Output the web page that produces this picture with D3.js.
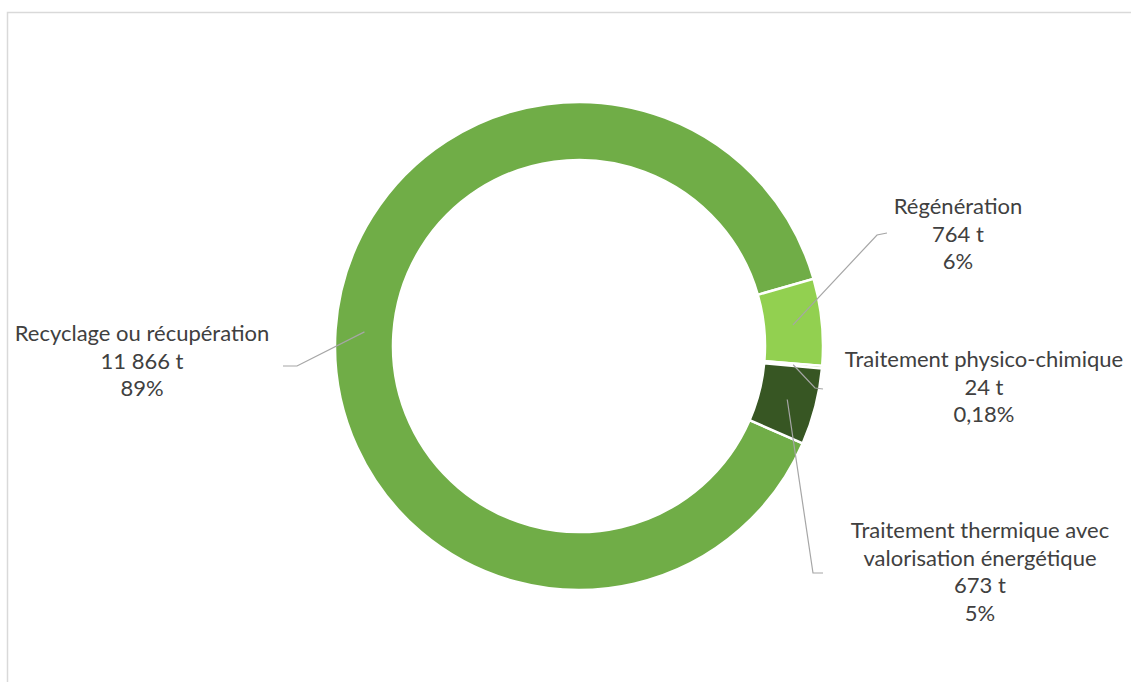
<!DOCTYPE html>
<html>
<head>
<meta charset="utf-8">
<script src="https://cdn.jsdelivr.net/npm/d3@7"></script>
<style>
  html, body { margin: 0; padding: 0; background: #fff; }
  svg { display: block; }
</style>
</head>
<body>
<svg id="chart"></svg>
<script>
// données
const categories = [
  "Recyclage ou récupération",
  "Régénération",
  "Traitement physico-chimique",
  "Traitement thermique avec valorisation énergétique"
];
const labelNames = [
  ["Recyclage ou récupération"],
  ["Régénération"],
  ["Traitement physico-chimique"],
  ["Traitement thermique avec", "valorisation énergétique"]
];
const tonnages = [11866, 764, 24, 673];
const tonnageLabels = ["11 866 t", "764 t", "24 t", "673 t"];
const percentLabels = ["89%", "6%", "0,18%", "5%"];
const colors = ["#70AD47", "#92D050", "#A9D18E", "#375623"];

// placement des étiquettes (décalage par rapport au centre du donut)
const labelLayout = [
  { dx: -437, dy: -5, elbow: [-282, 20], end: [-296, 20] },
  { dx: 379, dy: -132, elbow: [298, -111], end: [308, -113] },
  { dx: 405, dy: 21, elbow: [236, 42], end: [244, 43] },
  { dx: 401, dy: 192, elbow: [234, 227], end: [244, 227] }
];

const width = 1131, height = 682;
const cx = 579, cy = 346;
const outerR = 244, innerR = 186;
const startDeg = 113.5;
const lineH = 27.5;

const svg = d3.select("#chart")
  .attr("width", width)
  .attr("height", height);

// cadre du graphique
svg.append("rect")
  .attr("x", 7.5).attr("y", 12.5)
  .attr("width", width + 50).attr("height", height + 50)
  .attr("fill", "#fff")
  .attr("stroke", "#D9D9D9")
  .attr("stroke-width", 1.5);

const pie = d3.pie()
  .sort(null)
  .startAngle(startDeg * Math.PI / 180)
  .endAngle(startDeg * Math.PI / 180 + 2 * Math.PI);

const arcs = pie(tonnages);

const arc = d3.arc()
  .innerRadius(innerR)
  .outerRadius(outerR);

const g = svg.append("g")
  .attr("transform", `translate(${cx},${cy})`);

g.selectAll("path.slice")
  .data(arcs)
  .join("path")
  .attr("class", "slice")
  .attr("d", arc)
  .attr("fill", (d, i) => colors[i])
  .attr("stroke", "#fff")
  .attr("stroke-width", 2.5)
  .attr("stroke-linejoin", "miter");

// lignes de rappel
g.selectAll("polyline.leader")
  .data(arcs)
  .join("polyline")
  .attr("class", "leader")
  .attr("points", (d, i) => {
    const c = arc.centroid(d);
    const l = labelLayout[i];
    return [c, l.elbow, l.end].map(p => p.join(",")).join(" ");
  })
  .attr("fill", "none")
  .attr("stroke", "#A6A6A6")
  .attr("stroke-width", 1.2);

// étiquettes
const labels = g.selectAll("text.lbl")
  .data(arcs)
  .join("text")
  .attr("class", "lbl")
  .attr("x", (d, i) => labelLayout[i].dx)
  .attr("y", (d, i) => labelLayout[i].dy)
  .attr("text-anchor", "middle")
  .attr("font-family", "Lato, 'Open Sans', sans-serif")
  .attr("font-size", 22)
  .attr("fill", "#404040");

labels.each(function (d, i) {
  const lines = labelNames[i].concat([tonnageLabels[i], percentLabels[i]]);
  d3.select(this).selectAll("tspan")
    .data(lines)
    .join("tspan")
    .attr("x", labelLayout[i].dx)
    .attr("dy", (t, j) => j === 0 ? 0 : lineH)
    .text(t => t);
});
</script>
</body>
</html>
